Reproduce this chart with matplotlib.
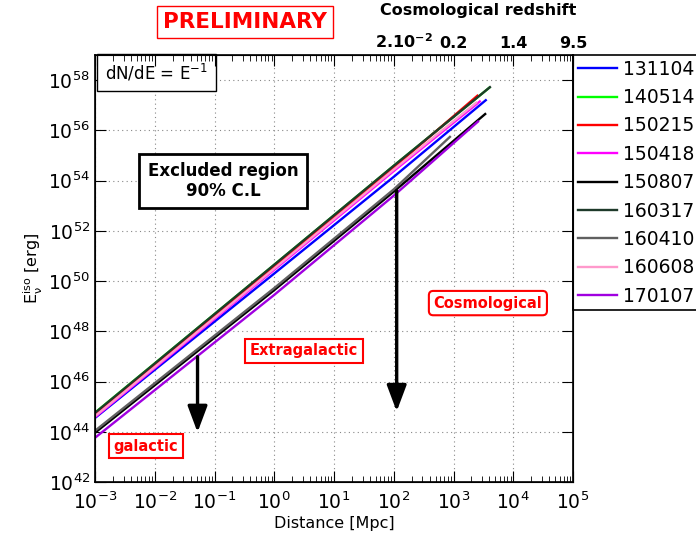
import numpy as np
import matplotlib

matplotlib.use("Agg")
import matplotlib.pyplot as plt
import matplotlib.transforms as mtransforms
from matplotlib.ticker import FixedLocator, NullLocator, NullFormatter

plt.rcParams["font.family"] = ["DejaVu Sans"]
plt.rcParams["mathtext.default"] = "regular"

# bursts, drawing colours and the limit curves
bursts = ["131104", "140514", "150215", "150418", "150807",
          "160317", "160410", "160608", "170107"]
colors = ["#0000FF", "#00FF00", "#FF0000", "#FF00FF", "#000000",
          "#1E3A2A", "#606060", "#FF99CC", "#A000E0"]

# log10 E_iso [erg] at d = 1e-3, 1 and 100 Mpc
logE_1e_3 = [44.55, 44.76, 44.70, 44.58, 43.96, 44.75, 44.04, 44.62, 43.76]
logE_1 = [50.30, 50.65, 50.58, 50.45, 49.64, 50.65, 49.72, 50.50, 49.45]
logE_100 = [54.15, 54.59, 54.52, 54.38, 53.56, 54.59, 53.65, 54.44, 53.40]
# end point of each curve: log10 distance [Mpc], log10 E_iso [erg]
logd_end = [3.54, 3.60, 3.40, 3.44, 3.53, 3.61, 2.94, 3.38, 3.41]
logE_end = [57.20, 57.70, 57.38, 57.15, 56.65, 57.72, 55.74, 57.10, 56.35]

x_decades = [1e-3, 1e-2, 1e-1, 1e0, 1e1, 1e2, 1e3, 1e4, 1e5]
y_decades = [1e42, 1e44, 1e46, 1e48, 1e50, 1e52, 1e54, 1e56, 1e58]
redshift_labels = ["", "", "", "", "", "2.10$^{-2}$", "0.2", "1.4", "9.5"]

# arrows: distance [Mpc], log10 E start, log10 E tip
arrow_d = [0.052, 112.0]
arrow_from = [46.99, 53.60]
arrow_to = [43.98, 44.81]

fig = plt.figure(figsize=(6.96, 5.45), dpi=100)
ax = fig.add_axes([95 / 696, 1 - 482 / 545, 478 / 696, 427 / 545])

for i, name in enumerate(bursts):
    logd = [-3.0, 0.0, 2.0, logd_end[i]]
    logE = [logE_1e_3[i], logE_1[i], logE_100[i], logE_end[i]]
    ax.plot(10 ** np.array(logd), 10 ** np.array(logE), color=colors[i], lw=1.7, label=name)

ax.set_xscale("log")
ax.set_yscale("log")
ax.set_xlim(1e-3, 1e5)
ax.set_ylim(1e42, 1e59)
ax.xaxis.set_major_locator(FixedLocator(x_decades))
ax.yaxis.set_major_locator(FixedLocator(y_decades))
ax.yaxis.set_minor_locator(NullLocator())
ax.tick_params(axis="both", which="major", direction="in", length=8, width=0.8,
               labelsize=13.5, right=True)
ax.tick_params(axis="x", which="major", pad=7)
ax.tick_params(axis="x", which="minor", direction="in", length=4, width=0.6)
ax.grid(True, which="major", linestyle=(0, (1, 3)), color="#888888", lw=0.8)
for sp in ax.spines.values():
    sp.set_linewidth(1.2)

ax.set_xlabel("Distance [Mpc]", fontsize=11.5, labelpad=2)
ax.set_ylabel(r"E$_{\nu}^{iso}$ [erg]", fontsize=11.5, labelpad=2)

# top axis with the cosmological redshift
ax2 = ax.twiny()
ax2.set_xscale("log")
ax2.set_xlim(ax.get_xlim())
ax2.xaxis.set_major_locator(FixedLocator(x_decades))
ax2.set_xticklabels(redshift_labels, fontsize=11.5, fontweight="bold")
ax2.tick_params(axis="x", which="major", direction="in", length=8, width=0.8, pad=3)
ax2.tick_params(axis="x", which="minor", direction="in", length=4, width=0.6)
ax2.xaxis.set_minor_formatter(NullFormatter())
# the first redshift label sits a little to the right of its tick
first = ax2.get_xticklabels()[5]
first.set_transform(first.get_transform()
                    + mtransforms.ScaledTranslation(10 / 100, 0, fig.dpi_scale_trans))
fig.text(478 / 696, 1 - 11 / 545, "Cosmological redshift", ha="center", va="center",
         fontsize=11.5, fontweight="bold")

for d, e0, e1 in zip(arrow_d, arrow_from, arrow_to):
    ax.annotate("", xy=(d, 10 ** e1), xytext=(d, 10 ** e0),
                arrowprops=dict(arrowstyle="-|>,head_length=0.8,head_width=0.3",
                                lw=2.4, color="black", mutation_scale=20,
                                shrinkA=0, shrinkB=0))

red_box = dict(boxstyle="square,pad=0.32", fc="white", ec="red", lw=1.5)
ax.text(0.437, 0.307, "Extragalactic", transform=ax.transAxes, ha="center", va="center",
        color="red", fontsize=10.5, fontweight="bold", bbox=red_box)
ax.text(0.107, 0.084, "galactic", transform=ax.transAxes, ha="center", va="center",
        color="red", fontsize=10.5, fontweight="bold", bbox=red_box)
ax.text(0.822, 0.419, "Cosmological", transform=ax.transAxes, ha="center", va="center",
        color="red", fontsize=10.5, fontweight="bold",
        bbox=dict(boxstyle="round,pad=0.32,rounding_size=0.3", fc="white", ec="red", lw=1.5))
ax.text(0.268, 0.705, "Excluded region\n90% C.L", transform=ax.transAxes, ha="center",
        va="center", fontsize=12, fontweight="bold", linespacing=1.15,
        bbox=dict(boxstyle="square,pad=0.5", fc="white", ec="black", lw=2))
ax.text(0.128, 0.959, "dN/dE = E$^{-1}$", transform=ax.transAxes, ha="center", va="center",
        fontsize=12, bbox=dict(boxstyle="square,pad=0.48", fc="white", ec="black", lw=1))

fig.text(245 / 696, 1 - 22 / 545, "PRELIMINARY", ha="center", va="center", color="red",
         fontsize=15.5, fontweight="bold",
         bbox=dict(boxstyle="square,pad=0.3", fc="white", ec="red", lw=1))

ax.legend(loc="upper left", bbox_to_anchor=(573 / 696, 1 - 55 / 545),
          bbox_transform=fig.transFigure, fontsize=13.5, frameon=True, fancybox=False,
          edgecolor="black", framealpha=1, borderaxespad=0, borderpad=0.25,
          handlelength=2.1, handletextpad=0.3, labelspacing=0.5)
ax.get_legend().get_frame().set_linewidth(1.2)

fig.savefig("out.png", dpi=100)
